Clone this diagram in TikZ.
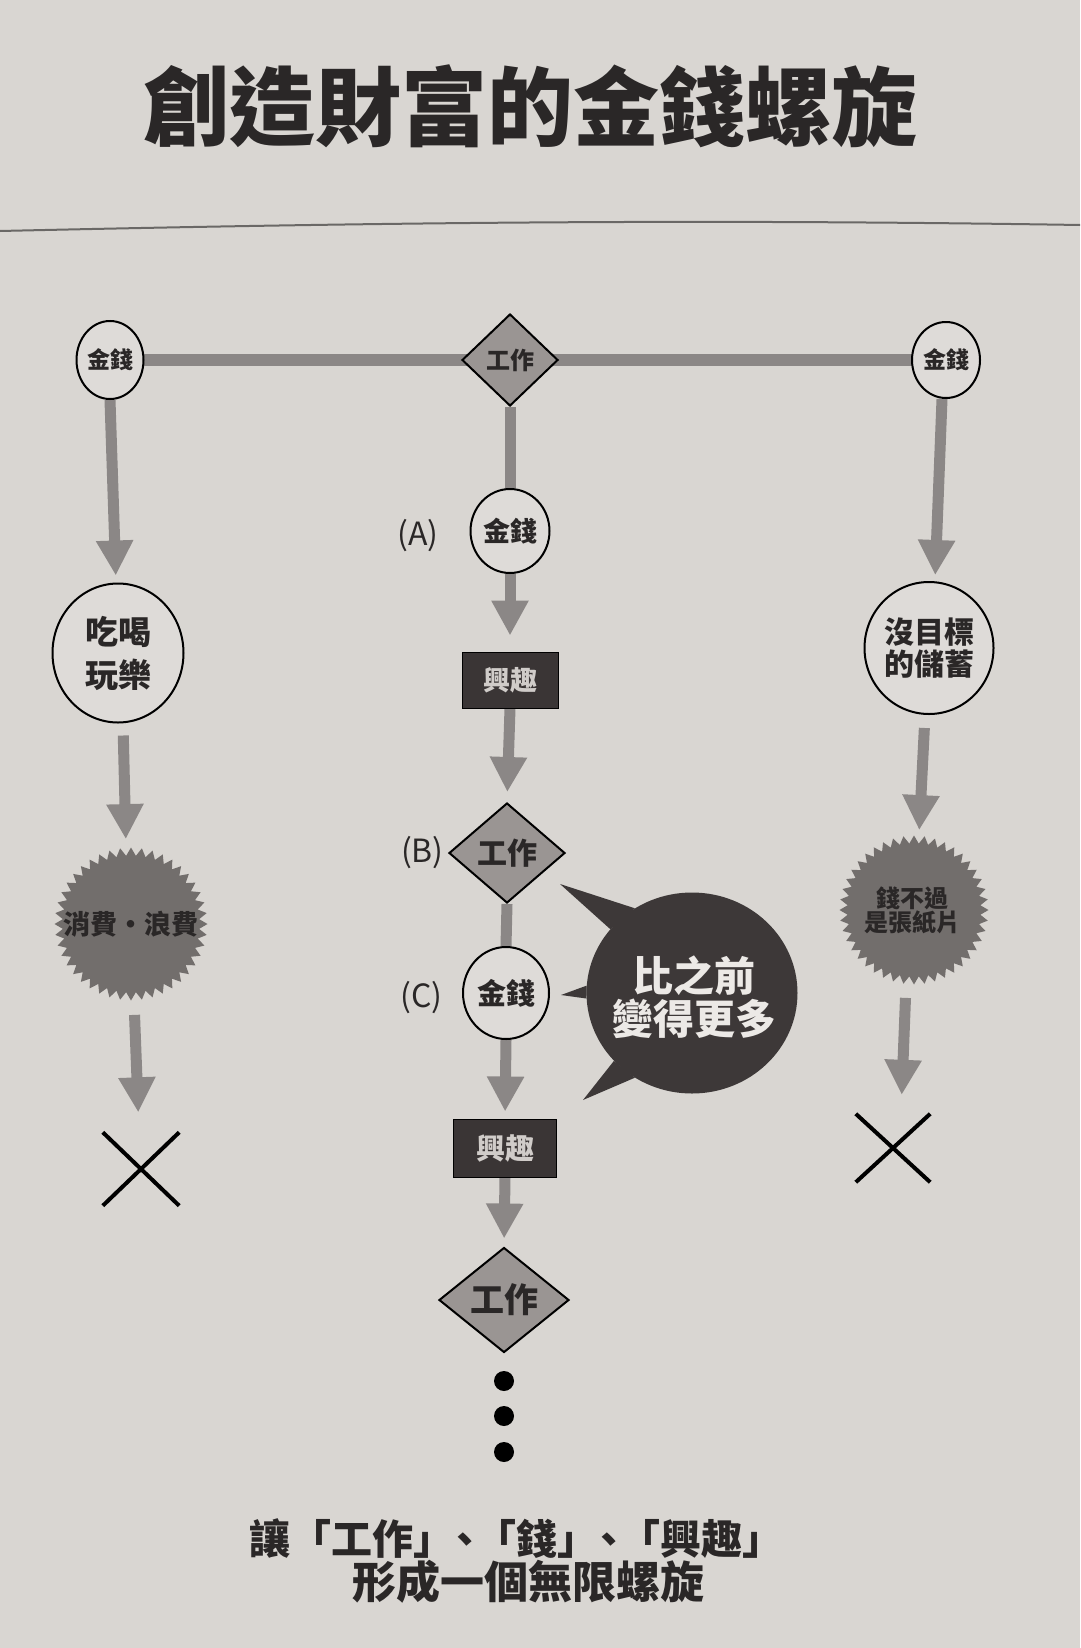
\documentclass[tikz,border=0pt]{standalone}
\usepackage{fontspec}
\setmainfont{Noto Sans CJK TC}
\usetikzlibrary{arrows.meta,shapes.geometric,calc}
\pgfdeclarelayer{bg}
\pgfdeclarelayer{conn}
\pgfsetlayers{bg,conn,main}
\definecolor{pagecol}{HTML}{D9D6D2}
\definecolor{flowgray}{HTML}{8B8786}
\definecolor{circfill}{HTML}{DEDBD8}
\definecolor{diafill}{HTML}{9A9593}
\definecolor{burstfill}{HTML}{726E6C}
\definecolor{boxfill}{HTML}{3A3535}
\definecolor{boxtext}{HTML}{D0CCC9}
\definecolor{bubcol}{HTML}{3D3838}
\definecolor{bubtext}{HTML}{ECE9E6}
\definecolor{inkcol}{HTML}{2A2727}
\definecolor{rulecol}{HTML}{6A6866}
\newcommand{\fs}[1]{\fontsize{#1}{#1}\selectfont}
\tikzset{
  money/.style={ellipse, draw=black, line width=2pt, fill=circfill, inner sep=0pt, text=inkcol},
  work/.style={diamond, draw=black, line width=2pt, fill=diafill, inner sep=0pt, text=inkcol},
  bigcirc/.style={ellipse, draw=black, line width=2pt, fill=circfill, inner sep=0pt, align=center, text=inkcol},
  interest/.style={rectangle, draw=black, line width=1pt, fill=boxfill, inner sep=0pt, text=boxtext},
  burst/.style={star, star points=44, star point ratio=1.12, fill=burstfill, inner sep=0pt},
  bursttext/.style={align=center, text=inkcol, inner sep=0pt},
  flow/.style={draw=flowgray, line width=11pt, -{Triangle[width=35pt,length=35pt]}},
  bar/.style={draw=flowgray, line width=12pt},
  xmark/.style={inner sep=0pt},
  crossline/.style={draw=black, line width=4pt},
  abc/.style={text=inkcol, inner sep=0pt, font=\fs{32}},
  dotnode/.style={circle, fill=black, minimum size=20pt, inner sep=0pt},
  bubble/.style={ellipse, fill=bubcol, minimum width=211pt, minimum height=201pt, inner sep=0pt},
}
\begin{document}
\begin{tikzpicture}[x=1pt,y=-1pt]
\useasboundingbox (0,0) rectangle (1080,1648);
\begin{pgfonlayer}{bg}
  \fill[pagecol] (0,0) rectangle (1080,1648);
  \draw[rulecol, line width=2pt] (0,231) .. controls (400,222) and (700,219) .. (1080,225);
\end{pgfonlayer}

% title
\node[text=inkcol, font=\bfseries\fs{86}, inner sep=0pt] (title) at (530,106) {創造財富的金錢螺旋};

% top row
\node[money, minimum width=67pt, minimum height=78pt, font=\bfseries\fs{23}] (m1) at (110,360) {金錢};
\node[work, minimum width=96pt, minimum height=92pt, font=\bfseries\fs{24}] (w0) at (510,360) {工作};
\node[money, minimum width=68pt, minimum height=76pt, font=\bfseries\fs{23}] (m2) at (946,360) {金錢};

% left column
\node[bigcirc, minimum width=131pt, minimum height=139pt, font=\bfseries\fs{33}] (e1) at (118,653) {吃喝\\[10pt]玩樂};
\node[burst, minimum size=153pt] (s1) at (131,924) {};
\node[bursttext, font=\bfseries\fs{27}] (s1t) at (s1) {消費・浪費};
\node[xmark, minimum width=76pt, minimum height=73pt] (x1) at (141,1169) {};

% right column
\node[bigcirc, minimum width=129pt, minimum height=132pt, font=\bfseries\fs{30}] (e2) at (929,648) {沒目標\\[2pt]的儲蓄};
\node[burst, minimum size=149pt] (s2) at (914,910) {};
\node[bursttext, font=\bfseries\fs{24}] (s2t) at (912,910) {錢不過\\是張紙片};
\node[xmark, minimum width=74pt, minimum height=68pt] (x2) at (893,1148) {};

% center column
\node[money, minimum width=79pt, minimum height=84pt, font=\bfseries\fs{27}] (mA) at (510,531) {金錢};
\node[abc, anchor=east] (lA) at (439,536) {(A)};
\node[interest, minimum width=96pt, minimum height=56pt, font=\bfseries\fs{27}] (i1) at (510,680) {興趣};
\node[work, minimum width=116pt, minimum height=100pt, font=\bfseries\fs{30}] (wB) at (507,853) {工作};
\node[abc, anchor=east] (lB) at (444,853) {(B)};
\node[money, minimum width=86pt, minimum height=92pt, font=\bfseries\fs{29}] (mC) at (506,993) {金錢};
\node[abc, anchor=east] (lC) at (443,998) {(C)};
\node[interest, minimum width=103pt, minimum height=58pt, font=\bfseries\fs{29}] (i2) at (505,1148) {興趣};
\node[work, minimum width=130pt, minimum height=105pt, font=\bfseries\fs{34}] (w3) at (504,1300) {工作};
\node[dotnode] (d1) at (504,1381) {};
\node[dotnode] (d2) at (504,1416) {};
\node[dotnode] (d3) at (504,1452) {};

% speech bubble
\node[bubble] (bub) at (692,993) {};
\coordinate (t1) at (560,884);
\coordinate (t2) at (561,995);
\coordinate (t3) at (583,1100);
\fill[bubcol] (bub.124) -- (t1) -- (bub.142) -- cycle;
\fill[bubcol] (bub.176) -- (t2) -- (bub.183) -- cycle;
\fill[bubcol] (bub.221) -- (t3) -- (bub.236) -- cycle;
\node[text=bubtext, font=\bfseries\fs{41}, align=center, inner sep=0pt] (bubt) at (694,997) {比之前\\[2pt]變得更多};

% bottom caption
\node[text=inkcol, font=\bfseries\fs{41}, inner sep=0pt] (cap1) at (516,1539) {讓「工作」\kern-10pt、\kern-10pt「錢」\kern-10pt、\kern-10pt「興趣」};
\node[text=inkcol, font=\bfseries\fs{44}, inner sep=0pt] (cap2) at (528,1582) {形成一個無限螺旋};

% connectors
\begin{pgfonlayer}{conn}
  \draw[bar] (m1.center) -- (m2.center);
  \draw[flow, shorten >=7pt] (m1.south) -- ($(e1.north)+(-2,0)$);
  \draw[flow, shorten <=12pt, shorten >=8pt] ($(e1.south)+(5,0)$) -- ($(s1.north)+(-5,0)$);
  \draw[flow, shorten <=14pt, shorten >=20pt] ($(s1.south)+(3,0)$) -- ($(x1.north)+(-2,0)$);
  \draw[flow, shorten >=6pt] ($(m2.south)+(-4,0)$) -- ($(e2.north)+(6,0)$);
  \draw[flow, shorten <=13pt, shorten >=5pt] ($(e2.south)+(-4,0)$) -- ($(s2.north)+(5,0)$);
  \draw[flow, shorten <=13pt, shorten >=19pt] ($(s2.south)+(-8,0)$) -- ($(x2.north)+(8,0)$);
  \draw[bar, line width=11pt] (w0.south) -- (mA.north);
  \draw[flow, shorten >=16pt] (mA.south) -- (i1.north);
  \draw[flow, shorten >=10pt] (i1.south) -- (wB.north);
  \draw[bar, line width=11pt] (wB.south) -- (mC.north);
  \draw[flow, shorten >=7pt] (mC.south) -- (i2.north);
  \draw[flow, shorten >=8pt] (i2.south) -- (w3.north);
\end{pgfonlayer}

% crosses
\draw[crossline] (x1.north west) -- (x1.south east) (x1.north east) -- (x1.south west);
\draw[crossline] (x2.north west) -- (x2.south east) (x2.north east) -- (x2.south west);
\end{tikzpicture}
\end{document}
